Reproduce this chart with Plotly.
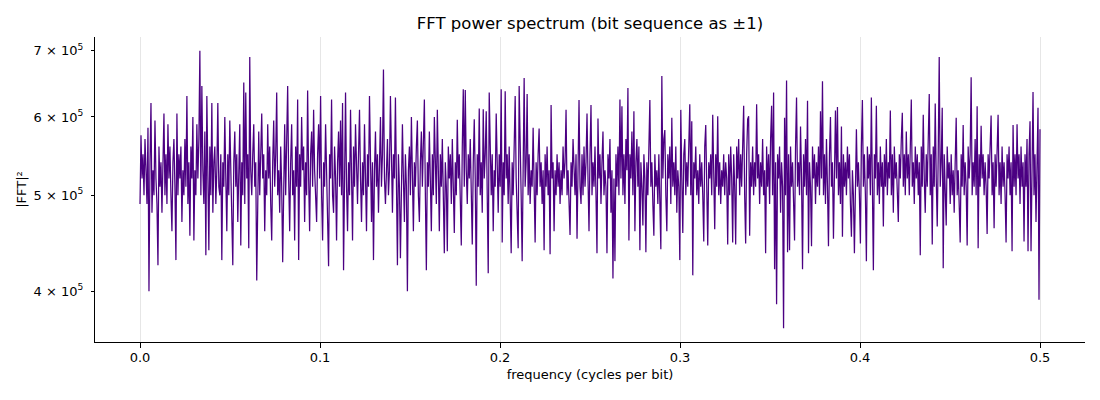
import numpy as np
import plotly.graph_objects as go

# |FFT|^2 in units of 1e5 left to right (about one value per pixel column)
power_e5 = [
    4.9, 5.75, 5.2, 5.5, 5.0, 5.7, 5.3, 4.9, 5.85, 4.0, 5.4, 6.2, 4.8, 5.3, 5.0, 5.95, 5.2, 4.9, 4.25, 5.6,
    5.1, 5.4, 4.8, 5.3, 6.05, 5.0, 5.5, 4.9, 5.9, 5.2, 5.6, 5.0, 4.6, 5.4, 5.7, 5.1, 4.3, 6.05, 5.0, 5.5,
    5.2, 5.6, 4.7, 5.3, 5.0, 5.7, 5.1, 6.3, 4.9, 5.4, 4.55, 5.6, 5.2, 6.0, 4.5, 5.3, 5.0, 5.9, 5.2, 5.7,
    7.0, 5.0, 6.45, 5.3, 4.9, 5.8, 4.35, 6.3, 5.2, 4.4, 5.6, 5.0, 6.2, 4.8, 5.4, 5.6, 4.9, 5.3, 6.2, 5.1,
    5.0, 5.5, 4.3, 5.4, 5.1, 6.0, 5.2, 4.6, 5.5, 5.0, 5.95, 5.3, 4.9, 4.25, 5.4, 5.8, 5.1, 5.5, 4.7, 5.3,
    5.9, 4.45, 5.4, 5.0, 6.5, 4.9, 6.35, 5.2, 5.5, 4.42, 6.9, 5.3, 5.0, 5.5, 5.9, 5.1, 5.4, 4.1, 5.3, 5.8,
    5.0, 5.4, 6.05, 5.2, 5.5, 4.6, 5.3, 5.0, 5.9, 5.2, 5.6, 4.9, 4.5, 5.4, 5.95, 5.1, 5.5, 6.35, 5.0, 5.3,
    4.8, 5.6, 5.1, 4.28, 5.4, 5.9, 5.0, 5.5, 6.45, 5.2, 4.6, 5.4, 5.9, 5.0, 5.3, 4.5, 5.6, 5.1, 6.25, 4.3,
    5.5, 5.1, 6.0, 5.3, 5.6, 4.7, 5.4, 5.0, 6.38, 5.2, 4.6, 5.5, 5.8, 5.1, 6.1, 5.3, 5.0, 4.7, 5.5, 5.9,
    5.2, 6.3, 5.0, 4.5, 5.4, 5.1, 5.9, 5.3, 5.0, 4.24, 5.5, 5.2, 6.25, 5.0, 4.8, 5.6, 5.2, 4.5, 5.4, 5.8,
    5.1, 5.95, 5.0, 6.2, 4.2, 5.5, 6.35, 5.1, 4.6, 5.4, 5.0, 6.1, 5.3, 4.5, 5.6, 5.1, 5.9, 5.2, 4.9, 5.5,
    6.1, 5.2, 4.7, 5.4, 5.0, 5.9, 5.3, 4.6, 5.5, 5.1, 6.3, 5.0, 4.7, 5.4, 4.3, 5.3, 5.8, 5.1, 5.5, 4.8,
    5.4, 6.0, 5.1, 5.5, 6.7, 5.2, 4.9, 5.4, 5.7, 5.0, 5.3, 6.3, 5.1, 4.8, 5.5, 5.2, 6.28, 5.0, 4.25, 5.5,
    5.1, 4.32, 5.4, 5.9, 5.2, 4.7, 5.5, 5.1, 4.0, 5.3, 5.6, 5.0, 6.0, 5.2, 4.6, 5.4, 5.1, 5.6, 5.95, 5.0,
    4.7, 5.4, 5.8, 5.1, 5.5, 6.25, 5.0, 4.2, 5.4, 5.1, 5.8, 5.2, 4.6, 5.5, 5.0, 6.0, 5.3, 4.9, 6.1, 5.2,
    4.6, 5.5, 5.1, 5.7, 5.0, 4.37, 5.4, 5.1, 4.39, 5.6, 5.2, 5.5, 4.9, 5.7, 5.1, 4.58, 5.4, 5.0, 5.96, 5.2,
    5.5, 5.0, 4.45, 5.6, 6.4, 5.1, 6.39, 5.3, 4.9, 5.5, 5.2, 5.7, 5.0, 4.46, 5.4, 5.97, 5.2, 4.05, 5.5, 5.1,
    6.12, 5.0, 5.4, 4.8, 6.11, 5.2, 5.5, 6.08, 5.0, 4.17, 6.35, 5.3, 5.0, 5.5, 4.6, 5.3, 5.1, 6.05, 5.2, 4.8,
    5.5, 5.1, 6.4, 4.48, 5.4, 5.0, 6.37, 5.2, 5.5, 4.9, 5.6, 5.1, 4.37, 5.4, 5.0, 5.6, 6.3, 5.2, 4.9, 4.42,
    6.45, 5.3, 5.0, 4.29, 5.5, 6.57, 5.1, 5.4, 6.33, 5.0, 5.5, 4.9, 5.3, 5.1, 5.85, 5.2, 4.48, 5.4, 5.0, 5.5,
    5.84, 5.1, 5.4, 4.9, 5.3, 4.4, 5.5, 5.1, 5.6, 5.0, 5.3, 4.36, 6.17, 5.2, 5.4, 4.6, 5.3, 5.0, 5.5, 5.1,
    5.4, 4.9, 5.3, 5.0, 5.6, 5.2, 5.4, 6.1, 5.0, 5.3, 4.9, 4.56, 5.4, 5.1, 5.7, 5.2, 5.0, 5.5, 4.52, 5.3,
    6.24, 5.1, 4.9, 5.5, 5.0, 5.6, 5.1, 5.4, 6.05, 5.2, 4.6, 5.5, 6.17, 5.0, 5.4, 5.1, 5.6, 5.0, 4.37, 5.98,
    5.2, 5.5, 4.9, 5.4, 5.8, 5.0, 5.3, 5.1, 4.37, 5.5, 5.2, 5.7, 4.8, 5.3, 4.12, 5.2, 4.29, 5.5, 5.1, 5.6,
    5.0, 6.25, 5.2, 6.15, 5.0, 5.5, 4.9, 5.7, 5.3, 6.42, 4.5, 5.5, 5.2, 5.8, 5.0, 6.08, 4.6, 5.4, 5.7, 5.1,
    5.6, 4.4, 5.4, 5.1, 4.66, 5.5, 5.2, 4.38, 5.4, 5.0, 5.5, 6.24, 5.1, 5.4, 4.9, 4.55, 5.5, 5.1, 5.3, 4.9,
    5.5, 5.0, 4.41, 6.6, 5.2, 5.7, 5.82, 5.0, 4.6, 5.5, 5.2, 5.6, 4.9, 5.99, 5.1, 5.4, 5.0, 5.6, 4.8, 5.3,
    5.1, 4.3, 6.1, 5.2, 4.58, 5.5, 5.7, 5.0, 5.4, 5.1, 5.5, 6.18, 5.0, 5.94, 4.15, 5.4, 5.2, 5.6, 5.0, 5.3,
    4.9, 5.5, 5.1, 5.4, 5.0, 4.49, 5.6, 5.89, 5.1, 4.45, 5.4, 5.2, 5.5, 5.0, 6.03, 5.2, 4.62, 5.5, 5.1, 6.01,
    5.0, 5.4, 4.9, 5.3, 5.1, 5.5, 5.0, 5.4, 5.2, 4.46, 5.5, 5.0, 5.6, 5.2, 4.48, 5.5, 5.1, 4.46, 5.6, 5.2,
    5.7, 5.0, 5.5, 5.1, 5.8, 6.16, 5.0, 4.47, 5.5, 5.97, 6.01, 4.55, 5.4, 5.1, 5.6, 5.0, 5.4, 5.1, 6.18, 5.2,
    5.5, 4.9, 5.4, 5.1, 5.7, 5.0, 5.3, 4.37, 5.6, 5.1, 5.5, 4.9, 5.7, 6.16, 5.0, 6.35, 4.21, 5.4, 3.88, 5.5,
    5.2, 5.6, 4.8, 5.4, 5.1, 3.67, 5.99, 5.0, 6.53, 4.38, 5.5, 4.4, 5.6, 5.1, 5.4, 4.9, 4.5, 5.6, 6.28, 5.1,
    5.4, 5.0, 5.87, 5.2, 4.21, 5.5, 5.1, 5.7, 5.0, 6.23, 4.37, 5.4, 5.1, 4.44, 5.6, 5.2, 5.5, 4.9, 5.4, 5.1,
    5.6, 5.0, 6.08, 5.2, 6.52, 5.0, 5.5, 4.9, 5.7, 5.1, 4.44, 5.5, 6.0, 5.1, 5.4, 4.52, 5.6, 6.09, 5.2, 6.14,
    5.0, 5.4, 4.9, 5.87, 4.54, 5.5, 5.1, 5.4, 5.0, 5.6, 5.2, 5.5, 4.9, 4.54, 5.3, 5.0, 4.37, 5.5, 5.83, 5.1,
    5.4, 5.0, 4.47, 5.6, 6.24, 5.1, 5.5, 5.0, 4.29, 5.6, 5.2, 5.5, 5.0, 6.28, 5.1, 4.2, 5.5, 5.2, 6.16, 5.0,
    5.4, 4.9, 5.6, 5.1, 5.4, 4.65, 5.5, 5.1, 5.7, 5.0, 5.4, 5.2, 6.09, 5.0, 5.5, 4.8, 5.6, 5.2, 5.4, 5.0,
    4.7, 5.5, 5.2, 5.7, 6.06, 5.1, 5.5, 5.0, 5.8, 5.2, 5.5, 5.0, 5.7, 6.25, 5.1, 5.4, 4.9, 5.6, 5.2, 5.5,
    5.0, 5.4, 4.35, 5.6, 5.1, 6.03, 5.2, 4.8, 5.5, 5.1, 5.7, 6.33, 5.0, 5.5, 4.46, 5.6, 5.1, 6.19, 5.2, 4.65,
    5.5, 6.9, 5.1, 5.4, 6.13, 4.22, 5.5, 5.1, 4.66, 5.6, 5.2, 5.4, 4.9, 5.5, 5.0, 5.3, 4.8, 5.4, 5.99, 5.0,
    5.3, 4.9, 4.48, 5.5, 5.1, 5.89, 5.0, 5.4, 5.1, 4.45, 5.6, 5.2, 5.5, 6.58, 5.0, 5.4, 5.1, 5.7, 5.0, 6.15,
    4.42, 5.5, 5.1, 5.88, 5.2, 5.5, 5.0, 5.4, 5.1, 4.57, 5.5, 5.2, 5.7, 6.02, 5.0, 5.4, 4.63, 5.5, 5.1, 5.6,
    6.03, 5.0, 5.4, 4.9, 5.6, 5.1, 5.4, 5.0, 4.48, 5.5, 5.2, 5.6, 5.0, 5.4, 4.39, 5.89, 5.1, 5.5, 5.0, 5.9,
    5.2, 5.5, 4.9, 5.6, 5.1, 5.4, 4.49, 5.5, 5.1, 5.7, 4.39, 5.5, 5.94, 4.39, 5.4, 6.36, 5.0, 5.5, 4.7, 5.4,
    6.13, 3.92, 5.83,
]
power = np.array(power_e5) * 1e5
# rfft bins run evenly from 0 to the Nyquist frequency (0.5 cycles per bit)
freqs = np.linspace(0, 0.5, len(power))

y_ticks = [4e5, 5e5, 6e5, 7e5]
y_labels = ["4 × 10<sup>5</sup>", "5 × 10<sup>5</sup>", "6 × 10<sup>5</sup>", "7 × 10<sup>5</sup>"]
x_ticks = [0.0, 0.1, 0.2, 0.3, 0.4, 0.5]

fig = go.Figure()
fig.add_trace(go.Scatter(
    x=freqs, y=power, mode="lines",
    line=dict(color="#4B0082", width=1.25),
    showlegend=False,
))

# the page body adds an 8px offset, so margins are trimmed on the top/left
fig.update_layout(
    width=1100, height=400,
    margin=dict(l=87, r=23, t=29, b=66),
    plot_bgcolor="white", paper_bgcolor="white",
    font=dict(family="DejaVu Sans", size=13, color="black"),
    title=dict(text="FFT power spectrum (bit sequence as ±1)", x=0.5, xanchor="center",
               xref="paper", y=0.9625, yanchor="middle", font=dict(size=16.5)),
)
fig.update_xaxes(
    range=[-0.025, 0.525], tickvals=x_ticks, ticktext=[f"{v:.1f}" for v in x_ticks],
    tickfont=dict(size=13), automargin=False, ticklabelstandoff=-2,
    showgrid=True, gridcolor="#e6e6e6", gridwidth=1, zeroline=False,
    showline=True, linecolor="black", linewidth=1,
    ticks="outside", ticklen=5, tickcolor="black",
    title=dict(text="frequency (cycles per bit)", font=dict(size=13), standoff=6),
)
fig.update_yaxes(
    type="log", range=[5.5507, 5.859], tickvals=y_ticks, ticktext=y_labels,
    tickfont=dict(size=13), automargin=False, ticklabelstandoff=5,
    showgrid=False, zeroline=False,
    showline=True, linecolor="black", linewidth=1,
    ticks="outside", ticklen=3, tickcolor="black",
    title=dict(text="|FFT|²", font=dict(size=13), standoff=4),
)

fig.write_html("out.html")
